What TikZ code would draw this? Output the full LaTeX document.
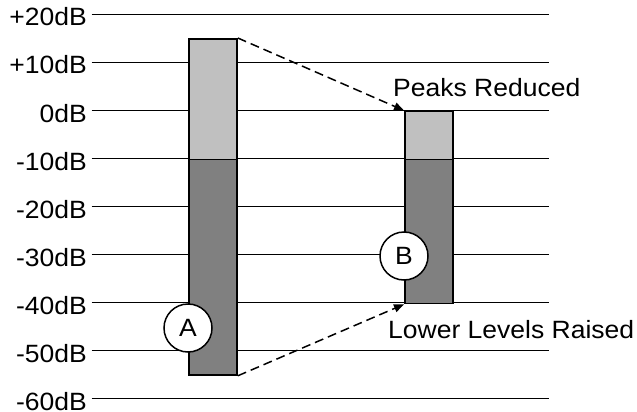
\documentclass[tikz,border=0pt]{standalone}
\usepackage{fontspec}
\setmainfont{Liberation Sans}[FakeStretch=1.06]
\usetikzlibrary{arrows.meta}
\definecolor{lightbar}{HTML}{C0C0C0}
\definecolor{darkbar}{HTML}{808080}
\begin{document}
\begin{tikzpicture}[x=1pt,y=-1pt,
  every node/.style={font=\fontsize{25}{29}\selectfont, inner sep=0pt},
  gridline/.style={line width=1.8pt},
  lbl/.style={anchor=base east},
  barpiece/.style={draw, line width=1.8pt, minimum width=48pt, anchor=north west},
  lightpiece/.style={barpiece, fill=lightbar},
  darkpiece/.style={barpiece, fill=darkbar},
  marker/.style={circle, draw, fill=white, line width=1.5pt, minimum size=48pt},
  conn/.style={line width=1.5pt, dash pattern=on 9pt off 5pt, -{Triangle[length=10pt,width=8pt]}},
  note/.style={anchor=base west}]
\useasboundingbox (0,0) rectangle (637,412);
% grid lines and labels
\foreach \v/\t [count=\i from 0] in {20/+20dB,10/+10dB,0/0dB,-10/-10dB,-20/-20dB,-30/-30dB,-40/-40dB,-50/-50dB,-60/-60dB}{
  \coordinate (L\i) at (91.5,14.5+48*\i);
  \coordinate (R\i) at (548.5,14.5+48*\i);
  \draw[gridline] (L\i) -- (R\i);
  \node[lbl] (lab\i) at (87,26+48*\i) {\t};
}
% bar A
\node[lightpiece, minimum height=120.5pt] (Atop) at (188,38) {};
\node[darkpiece, minimum height=215.5pt] (Abot) at (188,158.5) {};
% bar B
\node[lightpiece, minimum height=48pt] (Btop) at (404,110.5) {};
\node[darkpiece, minimum height=144pt] (Bbot) at (404,158.5) {};
% markers
\node[marker] (mA) at (Abot.west |- 0,328) {A};
\node[marker] (mB) at (Bbot.west |- 0,256) {B};
% connectors
\draw[conn] (Atop.north east) -- (Btop.north west);
\draw[conn] (Abot.south east) -- (Bbot.south west);
% notes
\node[note] (peaks) at (393,96.5) {Peaks Reduced};
\node[note] (lower) at (388,338) {Lower Levels Raised};
\end{tikzpicture}
\end{document}
